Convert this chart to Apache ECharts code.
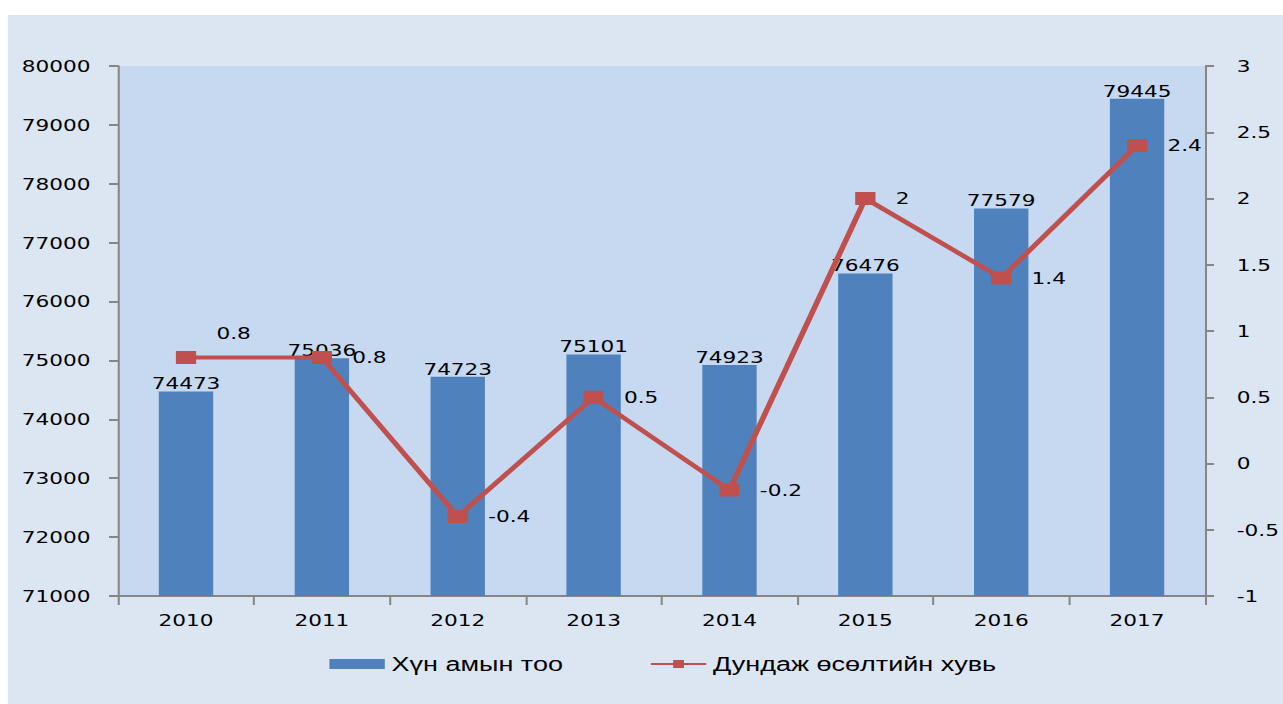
<!DOCTYPE html>
<html>
<head>
<meta charset="utf-8">
<script src="https://cdn.jsdelivr.net/npm/echarts/dist/echarts.min.js"></script>
<style>
  html, body { margin: 0; padding: 0; background: #ffffff; overflow: hidden; }
  /* the source picture is stretched sideways, so the chart is drawn
     narrow and widened with scaleX */
  #chart {
    position: absolute;
    left: 8px;
    top: 15px;
    width: 944px;
    height: 689px;
    background: #dce6f2;
    transform: scaleX(1.3506);
    transform-origin: 0 0;
  }
</style>
</head>
<body>
<div id="chart"></div>
<script>
// chart data
const years = ['2010', '2011', '2012', '2013', '2014', '2015', '2016', '2017']
const population = [74473, 75036, 74723, 75101, 74923, 76476, 77579, 79445]
const growthRate = [0.8, 0.8, -0.4, 0.5, -0.2, 2, 1.4, 2.4]
const seriesNames = ['Хүн амын тоо', 'Дундаж өсөлтийн хувь']

const numFont = 'DejaVu Sans, Verdana, sans-serif'
const axisGrey = '#868686'

const chart = echarts.init(document.getElementById('chart'), null, { renderer: 'svg' })

// first point label sits above the line in the original
const growthData = growthRate.map((v, i) => {
  if (i === 0) {
    return { value: v, label: { offset: [0, -24] } }
  }
  return v
})

const option = {
  animation: false,
  grid: {
    left: 81.5,
    top: 51,
    right: 54,
    bottom: 108,
    show: true,
    backgroundColor: '#c6d9f1',
    borderWidth: 0
  },
  legend: {
    left: 233,
    top: 634,
    itemWidth: 41,
    itemHeight: 10,
    itemGap: 64,
    textStyle: {
      fontFamily: 'Liberation Sans, Arial, sans-serif',
      fontSize: 20,
      color: '#000'
    },
    data: [
      { name: seriesNames[0], icon: 'rect', itemStyle: { color: '#4f81bd' } },
      { name: seriesNames[1] }
    ]
  },
  xAxis: {
    type: 'category',
    data: years,
    boundaryGap: true,
    axisLine: { onZero: false, lineStyle: { color: axisGrey, width: 2 } },
    axisTick: { show: true, length: 9, lineStyle: { color: axisGrey, width: 1.5 } },
    axisLabel: {
      margin: 16,
      color: '#000',
      fontFamily: numFont,
      fontSize: 16
    }
  },
  yAxis: [
    {
      type: 'value',
      min: 71000,
      max: 80000,
      interval: 1000,
      axisLine: { show: true, lineStyle: { color: axisGrey, width: 1.5 } },
      axisTick: { show: true, length: 6.7, lineStyle: { color: axisGrey, width: 2 } },
      splitLine: { show: false },
      axisLabel: {
        margin: 20.5,
        color: '#000',
        fontFamily: numFont,
        fontSize: 16,
        formatter: (v) => String(v)
      }
    },
    {
      type: 'value',
      min: -1,
      max: 3,
      interval: 0.5,
      axisLine: { show: true, lineStyle: { color: axisGrey, width: 1.5 } },
      axisTick: { show: true, length: 6.7, lineStyle: { color: axisGrey, width: 2 } },
      splitLine: { show: false },
      axisLabel: {
        margin: 23.5,
        color: '#000',
        fontFamily: numFont,
        fontSize: 16,
        formatter: (v) => String(v)
      }
    }
  ],
  series: [
    {
      name: seriesNames[0],
      type: 'bar',
      yAxisIndex: 0,
      barWidth: '40%',
      data: population,
      itemStyle: { color: '#4f81bd' },
      label: {
        show: true,
        position: 'top',
        distance: 0,
        color: '#000',
        fontFamily: numFont,
        fontSize: 16
      }
    },
    {
      name: seriesNames[1],
      type: 'line',
      yAxisIndex: 1,
      data: growthData,
      symbol: 'rect',
      symbolSize: [15, 13],
      lineStyle: { color: '#c0504d', width: 4.2 },
      itemStyle: { color: '#c0504d' },
      label: {
        show: true,
        position: 'right',
        distance: 15,
        color: '#000',
        fontFamily: numFont,
        fontSize: 16
      },
      z: 5
    }
  ]
}

chart.setOption(option)
</script>
</body>
</html>
